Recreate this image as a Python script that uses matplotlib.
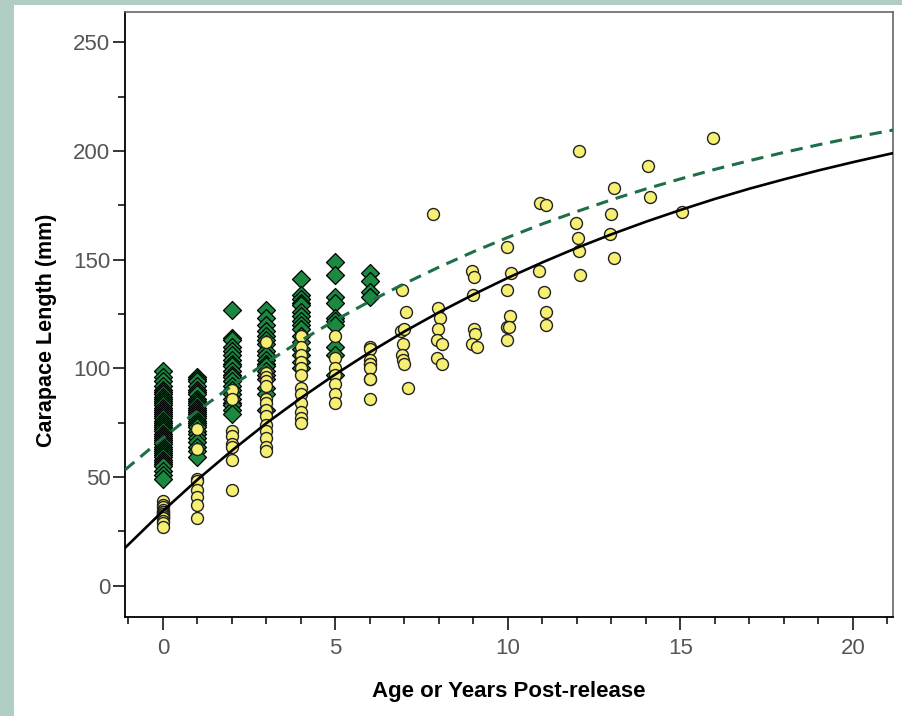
import numpy as np
import matplotlib
matplotlib.use("Agg")
import matplotlib.pyplot as plt
from matplotlib.patches import Rectangle
from matplotlib.ticker import MultipleLocator

# ---------------------------------------------------------------------------
# Data
# ---------------------------------------------------------------------------
# hatchery-reared animals (green diamonds), carapace length by age column
hatch_0 = [99, 96, 94, 92, 90, 89, 88, 87, 86, 85, 84, 83, 82, 81, 80, 79, 78,
           77, 76, 75, 74, 73, 72, 71, 70, 69, 68, 67, 66, 65, 64, 63, 62, 61,
           60, 59, 58, 57, 56, 55, 53, 51, 49]
hatch_1 = [96, 95, 94, 92, 90, 89, 88, 86, 85, 84, 83, 82, 81, 80, 79, 78, 77,
           76, 75, 74, 73, 71, 70, 68, 66, 64, 62, 59]
hatch_2 = [127, 114, 113, 110, 108, 106, 104, 102, 101, 99, 97, 96, 94, 92,
           90, 88, 86, 84, 83, 81, 79]
hatch_3 = [127, 123, 120, 117, 115, 113, 111, 108, 106, 104, 102, 101, 99, 97,
           95, 91, 88, 81]
hatch_4 = [141, 134, 132, 130, 129, 126, 124, 122, 120, 118, 115, 112, 109,
           106, 103, 100]
hatch_5 = [149, 143, 133, 130, 123, 122, 120, 110, 106, 97]
hatch_6 = [144, 140, 135, 133]

# wild / post-release animals (yellow circles), young dense columns
wild_0 = [39, 37, 36, 35, 34, 34, 33, 33, 32, 32, 31, 31, 30, 29, 27]
wild_1 = [72, 63, 49, 48, 44, 41, 37, 31]
wild_2 = [90, 86, 71, 69, 65, 64, 58, 44]
wild_3 = [112, 98, 96, 94, 92, 86, 84, 81, 78, 74, 71, 68, 64, 62]
wild_4 = [115, 110, 106, 103, 100, 97, 91, 88, 84, 80, 77, 75]
wild_5 = [115, 105, 100, 97, 93, 88, 84]
wild_6 = [110, 109, 104, 102, 102, 100, 95, 95, 86]

# older wild animals: age and carapace length
old_age = [6.94, 7.05, 6.9, 6.99, 6.96, 6.92, 6.95, 7.0, 7.1,
           7.84, 7.98, 8.02, 7.96, 7.95, 8.08, 7.94, 8.08,
           8.96, 9.03, 8.98, 9.02, 9.04, 8.96, 9.1,
           9.98, 10.08, 9.96, 10.06, 9.96, 10.02, 9.97,
           10.93, 11.1, 10.9, 11.03, 11.1, 11.1,
           12.06, 11.97, 12.02, 12.05, 12.08,
           13.06, 13.0, 12.96, 13.06,
           14.06, 14.12, 15.03, 15.93]
old_cl = [136, 126, 117, 118, 111, 106, 104, 102, 91,
          171, 128, 123, 118, 113, 111, 105, 102,
          145, 142, 134, 118, 116, 111, 110,
          156, 144, 136, 124, 119, 119, 113,
          176, 175, 145, 135, 126, 120,
          200, 167, 160, 154, 143,
          183, 171, 162, 151,
          193, 179, 172, 206]

# fitted growth curves
curve_age = [-1.1, 0, 1, 2, 3, 4, 5, 6, 7, 8, 9, 10, 11, 12, 13, 14, 15, 16,
             17, 18, 19, 20, 21.2]
fit_wild = [17.4, 34.4, 48.8, 62.2, 74.8, 86.4, 97.3, 107.5, 117.0, 125.8,
            134.0, 141.7, 148.8, 155.5, 161.7, 167.5, 172.9, 178.0, 182.7,
            187.0, 191.1, 194.9, 199.2]
fit_hatch = [53.3, 68.0, 80.4, 92.0, 102.7, 112.8, 122.2, 130.9, 139.0, 146.6,
             153.7, 160.3, 166.5, 172.2, 177.6, 182.6, 187.2, 191.6, 195.6,
             199.4, 202.9, 206.2, 209.8]

hatch_cols = [hatch_0, hatch_1, hatch_2, hatch_3, hatch_4, hatch_5, hatch_6]
wild_cols = [wild_0, wild_1, wild_2, wild_3, wild_4, wild_5, wild_6]

hatch_x = np.concatenate([np.full(len(c), a) for a, c in enumerate(hatch_cols)])
hatch_y = np.concatenate(hatch_cols)
wild_x = np.concatenate([np.full(len(c), a) for a, c in enumerate(wild_cols)]
                        + [np.array(old_age)])
wild_y = np.concatenate(wild_cols + [np.array(old_cl)])

# ---------------------------------------------------------------------------
plt.rcParams["font.family"] = ["Liberation Sans Narrow", "Liberation Sans",
                               "DejaVu Sans"]

fig = plt.figure(figsize=(9.03, 7.16), dpi=100, facecolor="#b0cdc4")
fig.patches.append(Rectangle((14 / 903, 0), 1, 711 / 716, facecolor="white",
                             edgecolor="none", transform=fig.transFigure,
                             zorder=-5))
ax = fig.add_axes([125 / 903, 1 - 617 / 716, 768 / 903, 605 / 716])
ax.set_zorder(1)
ax.set_facecolor("white")

ax.scatter(hatch_x, hatch_y, marker="D", s=84, facecolor="#1b8a40",
           edgecolor="black", linewidth=0.9, zorder=2)
ax.scatter(wild_x, wild_y, marker="o", s=74, facecolor="#f6ef72",
           edgecolor="#222222", linewidth=1.0, zorder=3)

ax.plot(curve_age, fit_hatch, color="#1e6e46", linestyle=(0, (4, 2.6)),
        linewidth=2.2, zorder=4)
ax.plot(curve_age, fit_wild, color="black", linewidth=1.9, zorder=5)

ax.set_xlim(-1.1, 21.16)
ax.set_ylim(-14.4, 264)
ax.xaxis.set_major_locator(MultipleLocator(5))
ax.xaxis.set_minor_locator(MultipleLocator(1))
ax.yaxis.set_major_locator(MultipleLocator(50))
ax.yaxis.set_minor_locator(MultipleLocator(25))

ax.tick_params(axis="both", which="major", length=9, width=1.1,
               color="black", labelsize=16, labelcolor="#555555")
ax.tick_params(axis="both", which="minor", length=5, width=1.1, color="black")
ax.tick_params(axis="y", which="major", pad=1.5)
ax.tick_params(axis="x", which="major", pad=6)

for side in ["left", "bottom"]:
    ax.spines[side].set_color("black")
    ax.spines[side].set_linewidth(1.3)
for side in ["top", "right"]:
    ax.spines[side].set_color("#666666")
    ax.spines[side].set_linewidth(1.2)

ax.set_xlabel("Age or Years Post-release", fontsize=16, fontweight="bold")
ax.set_ylabel("Carapace Length (mm)", fontsize=15.5, fontweight="bold")
ax.xaxis.set_label_coords(0.5, -0.105)
ax.yaxis.set_label_coords(-0.088, 0.474)

fig.savefig("out.png", dpi=100, facecolor=fig.get_facecolor())
